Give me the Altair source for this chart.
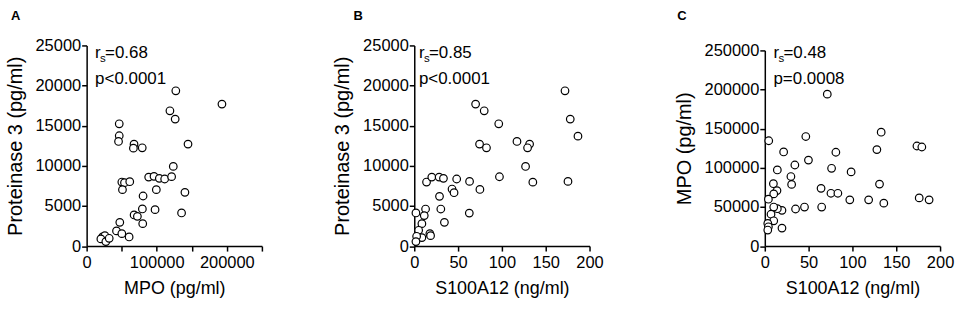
import altair as alt
import pandas as pd

FONT = "Arial, 'Liberation Sans', sans-serif"

# Panel A: MPO (pg/ml) vs Proteinase 3 (pg/ml)
a_mpo = [127200, 193000, 118800, 126300, 144600, 46500, 46500, 45500, 67600, 66700, 79300,
         22700, 26000, 20300, 27400, 32200, 42600, 47300, 50200, 60600, 67700, 72400, 79500,
         80000, 80500, 97600, 99400, 50200, 54000, 61500, 51100, 88500, 96100, 103700, 111300,
         121200, 123600, 140200, 135400]
a_pr3 = [19350, 17690, 16860, 15820, 12710, 15240, 13750, 13040, 12700, 12200, 12250,
         1140, 1300, 900, 560, 970, 1890, 2960, 1550, 1140, 3880, 3710, 4630,
         2800, 6240, 4540, 7030, 7980, 7900, 8020, 7030, 8600, 8690, 8440, 8360,
         8650, 9930, 6700, 4130]

# Panel B: S100A12 (ng/ml) vs Proteinase 3 (pg/ml)
b_s100 = [172, 70, 79.8, 96.4, 178, 186.8, 117.2, 131.6, 129.3, 74.5, 82.4, 127, 97.2, 135.3,
          175.4, 63.1, 74.9, 62.8,
          14, 20, 28.4, 33.3, 48.4, 43.1, 45.4, 28.8, 30.3, 34.4, 12.9, 11.4, 1.9, 8.7, 5,
          17.8, 18.6, 8.7, 2.7, 1.9]
b_pr3 = [19350, 17690, 16860, 15240, 15820, 13700, 13040, 12710, 12250, 12710, 12250, 9925,
         8640, 7970, 8060, 8060, 7060, 4110,
         7980, 8600, 8600, 8440, 8360, 7110, 6650, 6200, 4620, 2960, 4620, 3800, 4130, 2800,
         1970, 1550, 1300, 1060, 1220, 560]

# Panel C: S100A12 (ng/ml) vs MPO (pg/ml)
c_s100 = [71.3, 4.5, 46.8, 132.8, 173.6, 179.2, 127.9, 21.5, 81.1, 49.8, 34.3, 76.2, 98.5,
          14.3, 29.8, 30.6, 130.9, 9.8, 64.2, 75.5, 83.4, 97, 118.5, 135.8, 176.2, 187.5,
          64.9, 45.3, 35.1, 19.6, 14.3, 13.9, 10.2, 4.1, 10.2, 7.1, 10.2, 3.4, 4.1, 3.4, 19.6]
c_mpo = [194100, 134600, 140000, 145500, 127900, 126600, 123300, 120300, 119900, 109900,
         103600, 99400, 94800, 97300, 88900, 78800, 79200, 79700, 73800, 67500, 67500, 59100,
         59100, 54900, 61600, 59100, 49900, 49900, 47400, 45700, 47800, 70900, 66700, 59900,
         49900, 40700, 32300, 28900, 24700, 20500, 23000]

panel_letters = ["A", "B", "C"]
r_values = ["=0.68", "=0.85", "=0.48"]
p_values = ["p<0.0001", "p<0.0001", "p=0.0008"]

W = 176
H = 201.5


def txt(s, x, y, size, weight="normal"):
    return alt.Chart(pd.DataFrame({"t": [s]})).mark_text(
        align="left", baseline="alphabetic", fontSize=size, font=FONT, color="black",
        fontWeight=weight
    ).encode(x=alt.value(x), y=alt.value(y), text="t:N")


def panel(xs, ys, xtitle, ytitle, xdom, ydom, xticks, xlabel_step, yticks, letter, rtxt, ptxt,
          letter_x, ann_x, yrange=None):
    df = pd.DataFrame({"x": xs, "y": ys})
    yscale = alt.Scale(domain=ydom, nice=False, zero=True)
    if yrange is not None:
        yscale = alt.Scale(domain=ydom, nice=False, zero=True, range=yrange)
    pts = alt.Chart(df).mark_point(
        shape="circle", filled=True, fill="white", stroke="black", strokeWidth=1.2,
        size=58, opacity=1
    ).encode(
        x=alt.X("x:Q", scale=alt.Scale(domain=xdom, nice=False),
                axis=alt.Axis(title=xtitle, values=xticks, format="d",
                              labelExpr=f"datum.value % {xlabel_step} == 0 ? datum.label : ''")),
        y=alt.Y("y:Q", scale=yscale,
                axis=alt.Axis(title=ytitle, values=yticks, format="d")),
    )
    layers = [
        pts,
        txt("r", ann_x, 12.5, 17),
        txt("s", ann_x + 5, 16.5, 11.5),
        txt(rtxt, ann_x + 10, 12.5, 17),
        txt(ptxt, ann_x, 38.5, 17),
        txt(letter, letter_x, -26, 13, "bold"),
    ]
    return alt.layer(*layers).properties(width=W, height=H)


pa = panel(a_mpo, a_pr3, "MPO (pg/ml)", "Proteinase 3 (pg/ml)", [0, 250000], [0, 25000],
           [0, 50000, 100000, 150000, 200000, 250000], 100000,
           [0, 5000, 10000, 15000, 20000, 25000], panel_letters[0], r_values[0], p_values[0],
           -76, 8.5)
pb = panel(b_s100, b_pr3, "S100A12 (ng/ml)", "Proteinase 3 (pg/ml)", [0, 200], [0, 25000],
           [0, 50, 100, 150, 200], 50,
           [0, 5000, 10000, 15000, 20000, 25000], panel_letters[1], r_values[1], p_values[1],
           -61, 4.7)
pc = panel(c_s100, c_mpo, "S100A12 (ng/ml)", "MPO (pg/ml)", [0, 200], [0, 250000],
           [0, 50, 100, 150, 200], 50,
           [0, 50000, 100000, 150000, 200000, 250000], panel_letters[2], r_values[2], p_values[2],
           -88, 8.7, yrange=[H, 5])

chart = alt.hconcat(pa, pb, pc, spacing=70).properties(
    padding={"left": 5, "top": 9, "right": 2, "bottom": 2},
    background="white",
).configure_view(stroke=None).configure_axis(
    grid=False, domainColor="black", domainWidth=1.5, tickColor="black", tickWidth=1.5,
    tickSize=5, labelColor="black", titleColor="black", labelFont=FONT, titleFont=FONT,
    labelFontSize=16.5, titleFontWeight="normal"
).configure_axisX(
    labelPadding=3, titleFontSize=18, titlePadding=9, labelFlush=False
).configure_axisY(
    labelPadding=1, titleFontSize=20, titlePadding=10
)

chart.save("out.html", embed_options={"renderer": "svg", "actions": False})
